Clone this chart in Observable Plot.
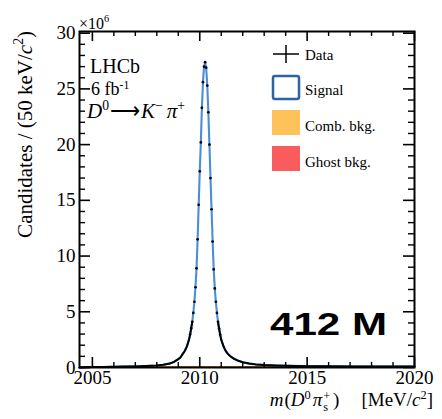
<!DOCTYPE html>
<html><head><meta charset="utf-8">
<script src="https://cdn.jsdelivr.net/npm/d3@7"></script>
<script src="https://cdn.jsdelivr.net/npm/@observablehq/plot@0.6"></script>
<style>body{margin:0;background:#fff}</style>
</head><body><div id="chart"></div>
<script>
// m(D0 pi_s+) [MeV/c^2] and candidates per 50 keV/c^2 (x10^6)
const mass = [2004.4, 2004.6, 2005.0, 2005.5, 2006.0, 2006.5, 2007.0, 2007.5, 2008.0, 2008.3, 2008.6, 2008.8,
  2009.0, 2009.1, 2009.2, 2009.25, 2009.3, 2009.35, 2009.4, 2009.45, 2009.5, 2009.55, 2009.6, 2009.65,
  2009.7, 2009.75, 2009.8, 2009.85, 2009.9, 2009.95, 2010.0, 2010.05, 2010.1, 2010.15, 2010.2, 2010.25,
  2010.3, 2010.35, 2010.4, 2010.45, 2010.5, 2010.55, 2010.6, 2010.65, 2010.7, 2010.75, 2010.8, 2010.85,
  2010.9, 2010.95, 2011.0, 2011.05, 2011.1, 2011.15, 2011.2, 2011.25, 2011.3, 2011.4, 2011.5, 2011.6,
  2011.8, 2012.0, 2012.3, 2012.6, 2013.0, 2013.5, 2014.0, 2015.0, 2016.0, 2017.0, 2018.0, 2019.0, 2020.0];
const candidates = [0, 0.02, 0.04, 0.05, 0.06, 0.08, 0.10, 0.13, 0.18, 0.24, 0.35, 0.5,
  0.75, 0.9, 1.2, 1.33, 1.48, 1.68, 1.9, 2.2, 2.5, 2.95, 3.5, 4.1,
  4.9, 5.9, 7.2, 8.9, 11.5, 14.6, 17.6, 20.2, 23.3, 25.6, 27.0, 27.4,
  26.9, 25.3, 22.9, 20.0, 17.0, 14.2, 11.3, 8.8, 7.1, 5.9, 4.9, 4.1,
  3.5, 2.95, 2.5, 2.2, 1.95, 1.72, 1.52, 1.37, 1.25, 1.05, 0.9, 0.78,
  0.6, 0.47, 0.35, 0.28, 0.22, 0.18, 0.15, 0.12, 0.11, 0.10, 0.09, 0.09, 0.08];
// background components (x10^6)
const bkgMass = [2004.4, 2005.0, 2007.0, 2010.0, 2013.0, 2016.0, 2020.0];
const combBkg = [0, 0.03, 0.05, 0.06, 0.07, 0.07, 0.07];
const ghostBkg = [0, 0.005, 0.01, 0.015, 0.01, 0.01, 0.01];
// axes
const xTicks = [2005, 2010, 2015, 2020];
const yTicks = [0, 5, 10, 15, 20, 25, 30];
const legendLabels = ["Data", "Signal", "Comb. bkg.", "Ghost bkg."];
const yieldLabel = "412 M";

const data = mass.map((m, i) => ({m, n: candidates[i]}));
const bkg = bkgMass.map((m, i) => ({m, comb: combBkg[i], ghost: ghostBkg[i]}));

const W = 442, H = 419, ML = 79, MR = 28, MT = 31, MB = 52;
const FW = W - ML - MR, FH = H - MT - MB;
const xMinor = d3.range(2005, 2021, 1).filter(v => !xTicks.includes(v));
const yMinor = d3.range(0, 31, 1).filter(v => !yTicks.includes(v));
const blue = "#4a8fd6";

const svg = Plot.plot({
  width: W, height: H,
  marginLeft: ML, marginRight: MR, marginTop: MT, marginBottom: MB,
  style: {fontFamily: "Liberation Serif", fontSize: "19px", background: "white", color: "black"},
  x: {domain: [2004.4, 2020], ticks: xTicks, tickSize: 0, tickPadding: 3, tickFormat: d => String(d), label: null},
  y: {domain: [0, 30.15], ticks: yTicks, tickSize: 0, tickPadding: 4, tickFormat: d => String(d), label: null},
  marks: [
    Plot.areaY(bkg, {x: "m", y1: 0, y2: "ghost", fill: "#f85c5c"}),
    Plot.areaY(bkg, {x: "m", y1: "ghost", y2: d => d.ghost + d.comb, fill: "#fdc35a"}),
    Plot.line(bkg, {x: "m", y: d => d.ghost + d.comb, stroke: "#a57a2c", strokeWidth: 1.2}),
    Plot.line(data, {x: "m", y: "n", stroke: blue, strokeWidth: 2.1}),
    Plot.line(data, {filter: d => d.m <= 2009.65, x: "m", y: "n", stroke: "black", strokeWidth: 2}),
    Plot.line(data, {filter: d => d.m >= 2010.85, x: "m", y: "n", stroke: "black", strokeWidth: 2}),
    Plot.dot(data, {filter: d => d.m > 2009.5 && d.m < 2011.0, x: "m", y: "n", r: 1.35, fill: "black"}),
    // inward ticks (ROOT style)
    Plot.tickY(yTicks, {y: d => d, insetRight: FW - 11, stroke: "black", strokeWidth: 1.6}),
    Plot.tickY(yMinor, {y: d => d, insetRight: FW - 6, stroke: "black", strokeWidth: 1.4}),
    Plot.tickY(yTicks, {y: d => d, insetLeft: FW - 11, stroke: "black", strokeWidth: 1.6}),
    Plot.tickY(yMinor, {y: d => d, insetLeft: FW - 6, stroke: "black", strokeWidth: 1.4}),
    Plot.tickX(xTicks, {x: d => d, insetTop: FH - 10, stroke: "black", strokeWidth: 1.6}),
    Plot.tickX(xMinor, {x: d => d, insetTop: FH - 5, stroke: "black", strokeWidth: 1.4}),
    Plot.tickX(xTicks, {x: d => d, insetBottom: FH - 10, stroke: "black", strokeWidth: 1.6}),
    Plot.tickX(xMinor, {x: d => d, insetBottom: FH - 5, stroke: "black", strokeWidth: 1.4}),
    Plot.frame({stroke: "black", strokeWidth: 2})
  ]
});
document.getElementById("chart").appendChild(svg);

const s = d3.select(svg);
function rich(opts, parts) {
  const {x, y, anchor = "start", size = 18, rotate = 0, family = "Liberation Serif", weight = "normal"} = opts;
  const t = s.append("text")
    .attr("transform", `translate(${x},${y})` + (rotate ? ` rotate(${rotate})` : ""))
    .attr("text-anchor", anchor)
    .attr("fill", "black")
    .style("font-family", family).style("font-size", size + "px").style("font-weight", weight);
  let cur = 0;
  for (const p of parts) {
    const off = p.sup ? -(p.up || 0.42) * size : p.sub ? 0.28 * size : 0;
    const ts = t.append("tspan").text(p.t)
      .attr("dy", off - cur)
      .style("font-size", ((p.sup || p.sub) ? 0.65 * size : (p.size || size)) + "px");
    if (p.i) ts.style("font-style", "italic");
    if (p.dx) ts.attr("dx", p.dx);
    cur = off;
  }
  return t;
}

// axis titles
rich({x: 32, y: 31, anchor: "end", rotate: -90, size: 21}, [
  {t: "Candidates / (50 keV/"}, {t: "c", i: true}, {t: "2", sup: true}, {t: ")"}]);
rich({x: 433, y: 406, anchor: "end", size: 19}, [
  {t: "m", i: true}, {t: "(", dx: 1}, {t: "D", i: true}, {t: "0", sup: true, up: 0.36}, {t: "π", i: true, dx: 2},
  {t: "+", sup: true, up: 0.34, dx: 1}, {t: "s", sub: true, dx: -7}, {t: ")", dx: 5}, {t: "[MeV/", dx: 22}, {t: "c", i: true}, {t: "2", sup: true, up: 0.36}, {t: "]"}]);
rich({x: 79, y: 29, size: 16}, [{t: "×10"}, {t: "6", sup: true}]);

// annotations
rich({x: 90, y: 73, size: 20}, [{t: "LHCb"}]);
rich({x: 91, y: 95, size: 18}, [{t: "6 fb"}, {t: "-1", sup: true, up: 0.33}]);
rich({x: 87, y: 118, size: 21}, [{t: "D", i: true}, {t: "0", sup: true, up: 0.38}, {t: "⟶", dx: 1}, {t: "K", i: true, dx: 1},
  {t: "−", sup: true, up: 0.38}, {t: "π", i: true, dx: 4}, {t: "+", sup: true, up: 0.38}]);

// legend
const lg = s.append("g");
lg.append("line").attr("x1", 273).attr("x2", 299).attr("y1", 54).attr("y2", 54).attr("stroke", "black").attr("stroke-width", 1.5);
lg.append("line").attr("x1", 286).attr("x2", 286).attr("y1", 45).attr("y2", 63).attr("stroke", "black").attr("stroke-width", 1.5);
lg.append("rect").attr("x", 273).attr("y", 76).attr("width", 26).attr("height", 23).attr("rx", 2)
  .attr("fill", "white").attr("stroke", "#2e62a0").attr("stroke-width", 2.5);
lg.append("rect").attr("x", 272).attr("y", 110).attr("width", 28).attr("height", 25).attr("fill", "#fdc35a");
lg.append("rect").attr("x", 272).attr("y", 146).attr("width", 28).attr("height", 25).attr("fill", "#f85c5c");
const ly = [60, 95, 131, 167];
legendLabels.forEach((l, i) => rich({x: 305, y: ly[i], size: 15}, [{t: l}]));

// yield
rich({x: 270, y: 335, size: 32, family: "Liberation Sans", weight: "bold"}, [{t: yieldLabel}])
  .attr("textLength", 117).attr("lengthAdjust", "spacingAndGlyphs");
</script></body></html>
